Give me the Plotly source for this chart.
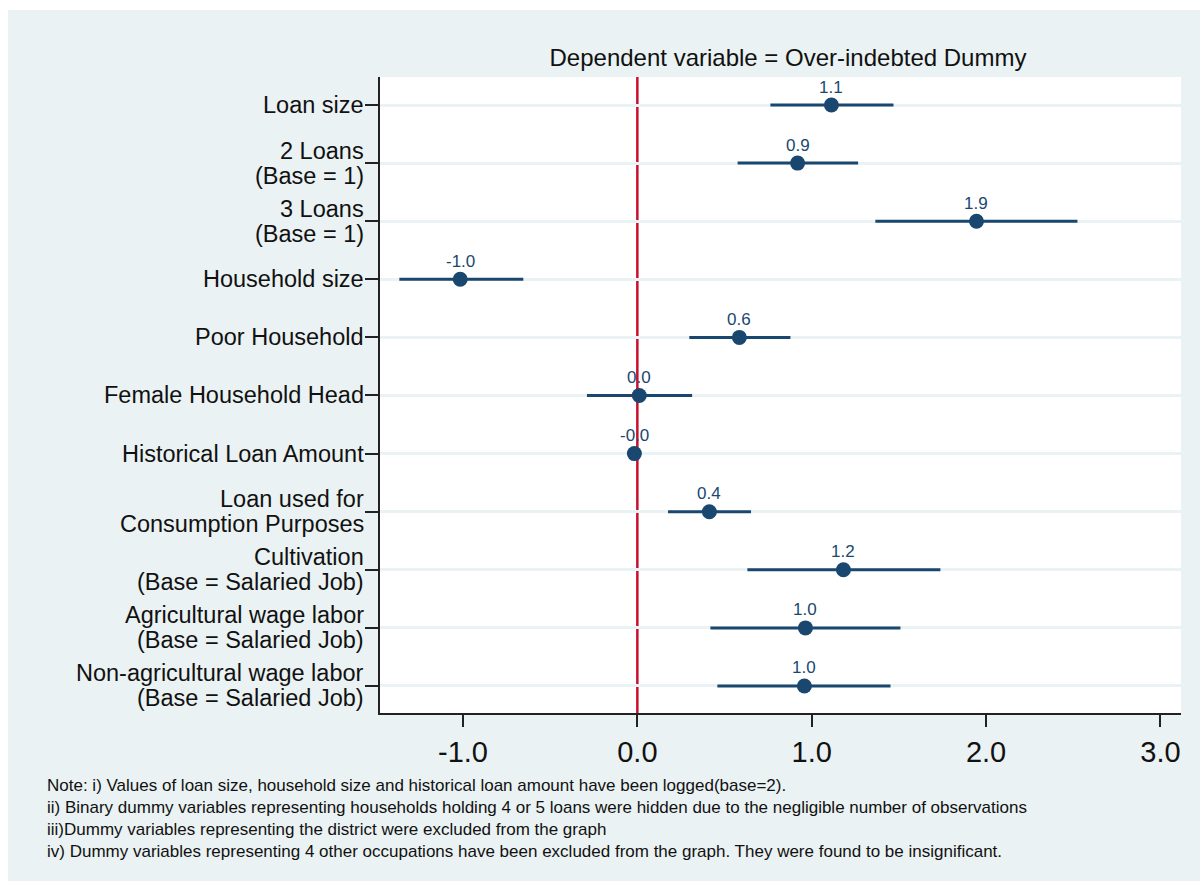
import plotly.graph_objects as go

# Regression coefficients with 95% confidence bounds
variables = [
    "Loan size",
    "2 Loans<br>(Base = 1)",
    "3 Loans<br>(Base = 1)",
    "Household size",
    "Poor Household",
    "Female Household Head",
    "Historical Loan Amount",
    "Loan used for<br>Consumption Purposes",
    "Cultivation<br>(Base = Salaried Job)",
    "Agricultural wage labor<br>(Base = Salaried Job)",
    "Non-agricultural wage labor<br>(Base = Salaried Job)",
]
estimate = [1.113, 0.919, 1.945, -1.016, 0.585, 0.011, -0.017, 0.413, 1.182, 0.964, 0.958]
ci_low = [0.763, 0.575, 1.365, -1.365, 0.298, -0.289, -0.040, 0.176, 0.631, 0.419, 0.459]
ci_high = [1.469, 1.266, 2.524, -0.654, 0.878, 0.314, 0.006, 0.652, 1.738, 1.509, 1.452]

x_ticks = [-1.0, 0.0, 1.0, 2.0, 3.0]
x_ticktext = ["-1.0", "0.0", "1.0", "2.0", "3.0"]

title_text = "Dependent variable = Over-indebted Dummy"
notes = [
    "Note: i) Values of loan size, household size and historical loan amount have been logged(base=2).",
    "ii) Binary dummy variables representing households holding 4 or 5 loans were hidden due to the negligible number of observations",
    "iii)Dummy variables representing the district were excluded from the graph",
    "iv) Dummy variables representing 4 other occupations have been excluded from the graph. They were found to be insignificant.",
]

NAVY = "#1A476F"
BG = "#EAF2F3"
FONT = "Liberation Sans, Arial, sans-serif"

W, H = 1200, 881
ML, MR, MT, MB = 380, 19, 77, 168
plot_w = W - ML - MR
plot_h = H - MT - MB

fig = go.Figure()

fig.add_trace(go.Scatter(
    x=estimate,
    y=variables,
    mode="markers",
    marker=dict(color=NAVY, size=15),
    error_x=dict(
        type="data",
        symmetric=False,
        array=[h - e for h, e in zip(ci_high, estimate)],
        arrayminus=[e - l for e, l in zip(estimate, ci_low)],
        color=NAVY,
        thickness=3,
        width=0,
    ),
    showlegend=False,
    cliponaxis=False,
))

# Reference line at zero
fig.add_shape(type="line", xref="x", yref="paper", x0=0, x1=0, y0=0, y1=1,
              line=dict(color="#C8102E", width=2.5), layer="between")

# White margin strips around the grey graph region
fig.add_shape(type="rect", xref="paper", yref="paper",
              x0=-ML / plot_w, x1=(W - ML) / plot_w,
              y0=1 + (MT - 10) / plot_h, y1=1 + MT / plot_h + 0.01,
              fillcolor="white", line=dict(width=0), layer="below")
fig.add_shape(type="rect", xref="paper", yref="paper",
              x0=-ML / plot_w - 0.01, x1=(8 - ML) / plot_w,
              y0=-MB / plot_h - 0.01, y1=1 + MT / plot_h + 0.01,
              fillcolor="white", line=dict(width=0), layer="below")

annotations = []

# Coefficient value labels above each marker
for v, e in zip(variables, estimate):
    annotations.append(dict(
        x=e, xref="x", y=v, yref="y", xanchor="center", yanchor="middle",
        yshift=18, text=f"{e:.1f}", showarrow=False,
        font=dict(family=FONT, size=17, color=NAVY),
    ))

# Category labels, one annotation per text line
for v in variables:
    lines = v.split("<br>")
    if len(lines) == 1:
        shifts = [0]
    else:
        shifts = [12.5, -12.5]
    for line, s in zip(lines, shifts):
        annotations.append(dict(
            x=0, xref="paper", y=v, yref="y", xanchor="right", yanchor="middle",
            xshift=-14, yshift=s, text=line, showarrow=False,
            font=dict(family=FONT, size=23.5, color="#111111"),
        ))

# Footnote block
annotations.append(dict(
    x=(45 - ML) / plot_w, xref="paper", y=(H - MB - 774) / plot_h, yref="paper",
    xanchor="left", yanchor="top", align="left", text="<br>".join(notes),
    showarrow=False,
    font=dict(family=FONT, size=17, color="#111111"),
))

fig.update_layout(
    width=W, height=H,
    margin=dict(l=ML, r=MR, t=MT, b=MB),
    paper_bgcolor=BG,
    plot_bgcolor="white",
    title=dict(text=title_text, x=788 / W, xanchor="center", xref="container",
               y=1 - 58 / H, yanchor="middle", yref="container",
               font=dict(family=FONT, size=24, color="#111111")),
    annotations=annotations,
    xaxis=dict(
        range=[-1.476, 3.118],
        tickvals=x_ticks, ticktext=x_ticktext,
        ticks="outside", ticklen=12, tickwidth=1.5, tickcolor="#222222",
        showgrid=False, zeroline=False,
        showline=True, linecolor="#222222", linewidth=1.5,
        tickfont=dict(family=FONT, size=29, color="#111111"),
    ),
    yaxis=dict(
        type="category",
        categoryorder="array", categoryarray=variables,
        range=[10.465, -0.482],
        ticks="outside", ticklen=13, tickwidth=1.5, tickcolor="#222222",
        showticklabels=False,
        showgrid=True, gridcolor=BG, gridwidth=2.5,
        zeroline=False,
        showline=True, linecolor="#222222", linewidth=1.5,
    ),
)

fig.write_html("out.html")
